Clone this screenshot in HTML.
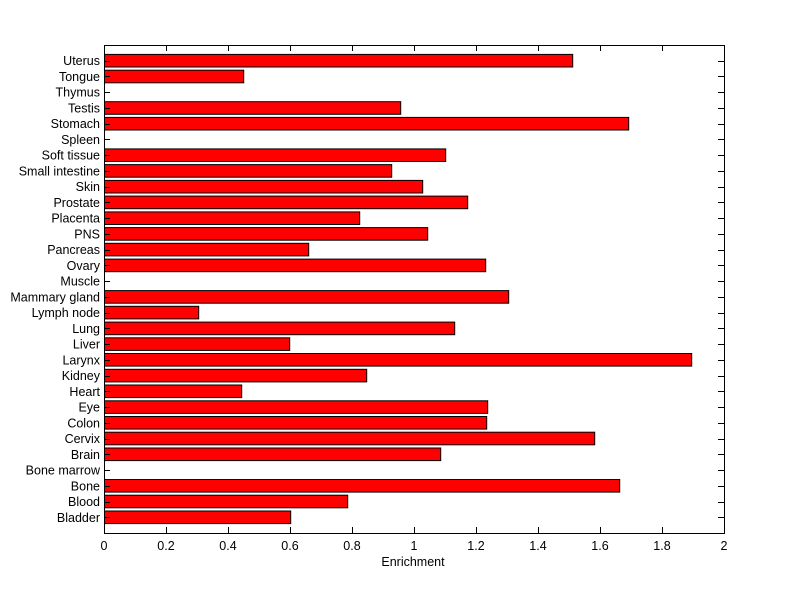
<!DOCTYPE html>
<html><head><meta charset="utf-8"><style>html,body{margin:0;padding:0;background:#fff}svg{display:block}</style></head>
<body>
<svg width="800" height="599" xmlns="http://www.w3.org/2000/svg" font-family="Liberation Sans, Arial, sans-serif" font-size="12.5">
<rect x="0" y="0" width="800" height="599" fill="#fff"/>
<g id="bars" stroke="#000" stroke-width="1" fill="#ff0000"></g>
<g id="ticks" stroke="#000" stroke-width="1"></g>
<g id="labels" fill="#000"></g>
<rect x="104.5" y="45.5" width="620" height="488" fill="none" stroke="#000" stroke-width="1"/>
<text x="413" y="566" text-anchor="middle">Enrichment</text>
<script>
(function(){
var names=["Bladder","Blood","Bone","Bone marrow","Brain","Cervix","Colon","Eye","Heart","Kidney","Larynx","Liver","Lung","Lymph node","Mammary gland","Muscle","Ovary","Pancreas","PNS","Placenta","Prostate","Skin","Small intestine","Soft tissue","Spleen","Stomach","Testis","Thymus","Tongue","Uterus"];
var ends=[290.7,347.7,619.7,0,440.7,594.7,486.7,487.7,241.7,366.7,691.7,289.7,454.7,198.7,508.7,0,485.7,308.7,427.7,359.7,467.7,422.7,391.7,445.7,0,628.7,400.7,0,243.7,572.7];
var ns="http://www.w3.org/2000/svg";
var B=document.getElementById("bars"),T=document.getElementById("ticks"),L=document.getElementById("labels");
var yTop=45,yBot=533,pitch=(yBot-yTop)/31;
function el(p,n,a,t){var e=document.createElementNS(ns,n);for(var k in a)e.setAttribute(k,a[k]);if(t)e.textContent=t;p.appendChild(e);}
for(var i=0;i<30;i++){
 var yc=yBot-(i+1)*pitch;
 if(ends[i]>0){el(B,"rect",{x:104.5,y:(yc-6.3).toFixed(1),width:(ends[i]-104.5).toFixed(1),height:12.6});}
 var yy=Math.round(yc)+0.5;
 el(T,"line",{x1:104,y1:yy,x2:110,y2:yy});
 el(T,"line",{x1:718,y1:yy,x2:724,y2:yy});
 el(L,"text",{x:100,y:(yc+4.5).toFixed(1),"text-anchor":"end"},names[i]);
}
for(var j=0;j<=10;j++){
 var x=Math.round(104+j*62)+0.5;
 if(j>0&&j<10){el(T,"line",{x1:x,y1:533,x2:x,y2:527});el(T,"line",{x1:x,y1:45,x2:x,y2:51});}
 var lab=(j*0.2).toFixed(1).replace(/\.0$/,"");
 el(L,"text",{x:104+j*62,y:550,"text-anchor":"middle"},lab);
}
})();
</script>
</svg>
</body></html>
